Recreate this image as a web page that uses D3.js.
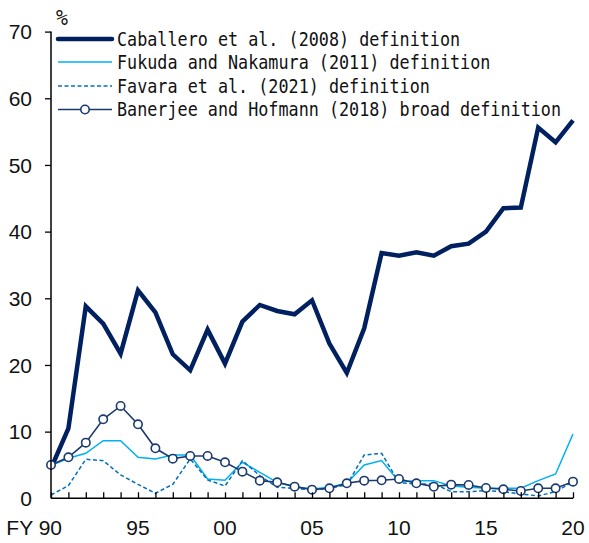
<!DOCTYPE html>
<html>
<head>
<meta charset="utf-8">
<script src="https://cdn.jsdelivr.net/npm/d3@7"></script>
<style>
  html, body { margin: 0; padding: 0; background: #fff; }
  svg { display: block; }
</style>
</head>
<body>
<svg id="chart" width="589" height="543"></svg>
<script>
const years = d3.range(1990, 2021);
const xTickLabels = ["FY 90", "95", "00", "05", "10", "15", "20"];
const xTickYears = [1990, 1995, 2000, 2005, 2010, 2015, 2020];
const yTicks = [0, 10, 20, 30, 40, 50, 60, 70];

const caballero = [4.5, 10.5, 28.8, 26.2, 21.7, 31.2, 27.9, 21.6, 19.2, 25.3, 20.2, 26.5, 29.0, 28.1, 27.6, 29.7, 23.2, 18.8, 25.5, 36.8, 36.4, 36.9, 36.4, 37.8, 38.2, 40.0, 43.5, 43.6, 55.6, 53.4, 56.7];
const fukuda = [4.9, 6.0, 6.75, 8.65, 8.65, 6.15, 5.9, 6.5, 6.5, 2.9, 2.7, 5.4, 3.9, 2.4, 1.75, 1.4, 1.65, 2.25, 5.0, 5.65, 2.5, 2.65, 2.65, 1.85, 1.65, 1.5, 1.5, 1.5, 2.65, 3.65, 9.65];
const favara = [0.5, 1.9, 5.85, 5.65, 3.5, 2.1, 0.75, 2.1, 5.9, 2.75, 1.85, 5.65, 3.4, 1.65, 1.5, 1.25, 1.5, 2.0, 6.5, 6.75, 2.35, 2.15, 2.15, 1.0, 1.0, 1.15, 1.0, 0.65, 0.35, 1.0, 2.5];
const banerjee = [5.0, 6.15, 8.35, 11.85, 13.85, 11.1, 7.5, 5.95, 6.35, 6.35, 5.4, 4.0, 2.65, 2.4, 1.75, 1.3, 1.5, 2.25, 2.65, 2.7, 2.9, 2.25, 1.75, 2.05, 2.0, 1.55, 1.35, 1.1, 1.5, 1.5, 2.5];

const seriesNames = [
  "Caballero et al. (2008) definition",
  "Fukuda and Nakamura (2011) definition",
  "Favara et al. (2021) definition",
  "Banerjee and Hofmann (2018) broad definition"
];

const svg = d3.select("#chart");
const x = d3.scaleLinear().domain([1990, 2020]).range([51, 573]);
const y = d3.scaleLinear().domain([0, 70]).range([498.3, 31.6]);

const styles = [
  { data: caballero, color: "#002060", width: 4.5, dash: null, marker: false },
  { data: fukuda, color: "#00B0F0", width: 1.5, dash: null, marker: false },
  { data: favara, color: "#0070C0", width: 1.5, dash: "4,2.5", marker: false },
  { data: banerjee, color: "#1B3A6F", width: 1.6, dash: null, marker: true }
];

const line = d3.line().x((d, i) => x(years[i])).y(d => y(d));

styles.forEach(s => {
  svg.append("path")
    .datum(s.data)
    .attr("d", line)
    .attr("fill", "none")
    .attr("stroke", s.color)
    .attr("stroke-width", s.width)
    .attr("stroke-linejoin", "miter")
    .attr("stroke-dasharray", s.dash);
  if (s.marker) {
    svg.append("g").selectAll("circle").data(s.data).join("circle")
      .attr("cx", (d, i) => x(years[i]))
      .attr("cy", d => y(d))
      .attr("r", 4.2)
      .attr("fill", "#fff")
      .attr("stroke", s.color)
      .attr("stroke-width", 1.6);
  }
});

// Y axis
const yAxis = d3.axisLeft(y).tickValues(yTicks.slice(1)).tickSize(6).tickFormat("");
const gy = svg.append("g").attr("transform", "translate(51,0)").call(yAxis);
gy.select(".domain").attr("stroke", "#000").attr("stroke-width", 1.5).attr("d", `M0,${y(70)}V${y(0)}`);
gy.selectAll(".tick line").attr("stroke", "#000").attr("stroke-width", 1.3);

svg.append("g").selectAll("text").data(yTicks).join("text")
  .attr("x", 32)
  .attr("y", d => y(d))
  .attr("dy", "0.36em")
  .attr("text-anchor", "end")
  .attr("font-family", "'Liberation Sans Narrow', 'Liberation Sans', Arial, sans-serif")
  .attr("font-size", 21)
  .attr("fill", "#111")
  .text(d => d);

// X axis
const xAxis = d3.axisTop(x).tickValues(years).tickSize(6).tickFormat("");
const gx = svg.append("g").attr("transform", `translate(0,${y(0)})`).call(xAxis);
gx.select(".domain").attr("stroke", "#000").attr("stroke-width", 1.5).attr("d", `M${x(1990)},0H${x(2020)}`);
gx.selectAll(".tick line").attr("stroke", "#000").attr("stroke-width", 1.3);

svg.append("g").selectAll("text").data(xTickYears).join("text")
  .attr("x", (d, i) => i === 0 ? x(d) + 11 : x(d))
  .attr("y", 535)
  .attr("text-anchor", (d, i) => i === 0 ? "end" : "middle")
  .attr("font-family", "'Liberation Sans Narrow', 'Liberation Sans', Arial, sans-serif")
  .attr("font-size", 21)
  .attr("fill", "#111")
  .text((d, i) => xTickLabels[i]);

// Unit label
svg.append("text")
  .attr("transform", "translate(56,25) scale(0.9,1)")
  .attr("font-family", "'DejaVu Sans Mono', monospace")
  .attr("font-size", 22)
  .attr("fill", "#111")
  .text("%");

// Legend
const legendRows = [39, 62, 86, 109.5];
const fontSize = 19.5;
const sx = 10.1 / (fontSize * 0.602);
const lg = svg.append("g");
styles.forEach((s, i) => {
  const ly = legendRows[i];
  lg.append("line")
    .attr("x1", 58).attr("x2", 112).attr("y1", ly).attr("y2", ly)
    .attr("stroke", s.color)
    .attr("stroke-width", s.width)
    .attr("stroke-linecap", i === 0 ? "round" : "butt")
    .attr("stroke-dasharray", s.dash);
  if (s.marker) {
    lg.append("circle").attr("cx", 85).attr("cy", ly).attr("r", 4.2)
      .attr("fill", "#fff").attr("stroke", s.color).attr("stroke-width", 1.6);
  }
  lg.append("text")
    .attr("transform", `translate(117,${ly + 6.5}) scale(${sx},1)`)
    .attr("font-family", "'DejaVu Sans Mono', 'Liberation Mono', monospace")
    .attr("font-size", fontSize)
    .attr("fill", "#111")
    .text(seriesNames[i]);
});
</script>
</body>
</html>
